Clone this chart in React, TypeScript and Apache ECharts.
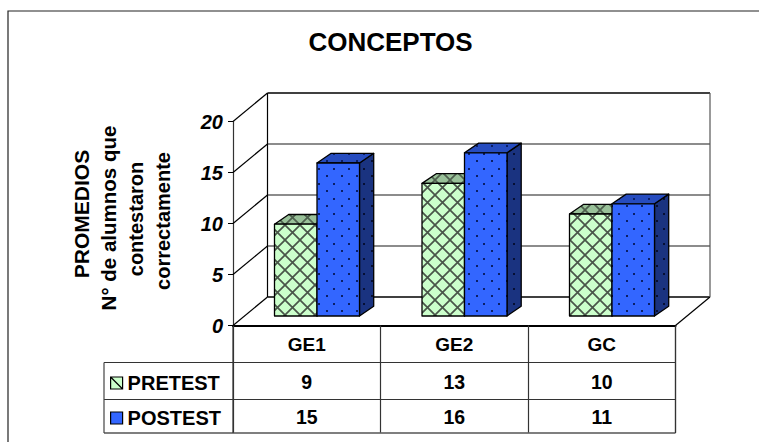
import React, { useEffect, useRef } from "react";
import * as echarts from "echarts";

// Chart contents
const categories = ["GE1", "GE2", "GC"];
const pretest = [9, 13, 10];
const postest = [15, 16, 11];
const seriesNames = ["PRETEST", "POSTEST"];
const valueTicks = [0, 5, 10, 15, 20];
const axisTitleLines = ["PROMEDIOS", "N° de alumnos que", "contestaron", "correctamente"];
const chartTitle = "CONCEPTOS";

const FONT = '"Liberation Sans", Arial, sans-serif';

// Oblique projection of the floor and the walls
const WALL_DX = 34.5;
const WALL_DY = 28.5;
const BAR_DX = 14.2;
const BAR_DY = 9.7;
const BAR_FLOOR_LIFT = 9.5;
const BAR_WIDTH = 42.5;
const BAR_INSET = 41.5;

// Table rows under the plot
const ROW_TOP = 362.5;
const ROW_MID = 399.5;
const ROW_BOTTOM = 433;
const TABLE_LEFT = 104;
const PLOT_LEFT = 233;
const PLOT_RIGHT = 675.5;

function lattice(bg: string, line: string) {
  const c = document.createElement("canvas");
  c.width = 15;
  c.height = 15;
  const g = c.getContext("2d")!;
  g.fillStyle = bg;
  g.fillRect(0, 0, 15, 15);
  g.strokeStyle = line;
  g.lineWidth = 1.7;
  g.beginPath();
  g.moveTo(-1, -1);
  g.lineTo(16, 16);
  g.moveTo(16, -1);
  g.lineTo(-1, 16);
  g.stroke();
  return { type: "pattern", image: c, repeat: "repeat", imageWidth: 15, imageHeight: 15 };
}

function dotted(bg: string, dot: string) {
  const c = document.createElement("canvas");
  c.width = 15;
  c.height = 15;
  const g = c.getContext("2d")!;
  g.fillStyle = bg;
  g.fillRect(0, 0, 15, 15);
  g.fillStyle = dot;
  g.fillRect(3, 3, 2, 2);
  g.fillRect(11, 10, 2, 2);
  return { type: "pattern", image: c, repeat: "repeat", imageWidth: 15, imageHeight: 15 };
}

function barRenderer(values: number[], slot: number, fills: any) {
  return (params: any, api: any) => {
    const i = params.dataIndex;
    const band = api.size([1, 0])[0];
    const cx = api.coord([i, 0])[0];
    const floor = api.coord([i, 0])[1] - BAR_FLOOR_LIFT;
    const top = api.coord([i, values[i]])[1] - BAR_FLOOR_LIFT;
    const l = cx - band / 2 + BAR_INSET + slot * BAR_WIDTH;
    const r = l + BAR_WIDTH;
    const edge = { stroke: "#000", lineWidth: 1.3, lineJoin: "round" };
    return {
      type: "group",
      children: [
        {
          type: "polygon",
          shape: { points: [[r, floor], [r + BAR_DX, floor - BAR_DY], [r + BAR_DX, top - BAR_DY], [r, top]] },
          style: { fill: fills.side, ...edge },
        },
        {
          type: "polygon",
          shape: { points: [[l, top], [r, top], [r + BAR_DX, top - BAR_DY], [l + BAR_DX, top - BAR_DY]] },
          style: { fill: fills.top, ...edge },
        },
        {
          type: "rect",
          shape: { x: l, y: top, width: BAR_WIDTH, height: floor - top },
          style: { fill: fills.front, ...edge },
        },
      ],
    };
  };
}

export default function App() {
  const ref = useRef<HTMLDivElement>(null);

  useEffect(() => {
    document.body.style.margin = "0";
    const chart = echarts.init(ref.current!, undefined, { renderer: "svg" });

    const hLine = (x1: number, x2: number, y: number, color = "#333", lineWidth = 1.2) => ({
      type: "line",
      shape: { x1, y1: y, x2, y2: y },
      style: { stroke: color, lineWidth },
    });
    const titleX = [81, 108, 136, 163];
    const titleY = [214, 218, 219, 221];
    const titleSize = [21, 20.5, 20, 20];

    chart.setOption({
      animation: false,
      backgroundColor: "#fff",
      title: {
        text: chartTitle,
        left: 385.5,
        top: 24,
        textAlign: "center",
        textStyle: { fontFamily: FONT, fontSize: 26, fontWeight: "bold", color: "#000" },
      },
      legend: {
        orient: "vertical",
        left: 105,
        top: 367,
        itemWidth: 12,
        itemHeight: 12,
        itemGap: 13,
        selectedMode: false,
        textStyle: { fontFamily: FONT, fontSize: 20, fontWeight: "bold", color: "#000", lineHeight: 22 },
        data: [
          {
            name: seriesNames[0],
            icon: "path://M0 0H10V10H0ZM0 0L10 10",
            itemStyle: { color: "#CCFFCC", borderColor: "#000", borderWidth: 1.2 },
          },
          {
            name: seriesNames[1],
            icon: "rect",
            itemStyle: { color: "#3366FF", borderColor: "#000", borderWidth: 1.2 },
          },
        ],
      },
      grid: { left: PLOT_LEFT, top: 121.5, width: PLOT_RIGHT - PLOT_LEFT, height: 204 },
      xAxis: {
        type: "category",
        data: categories,
        axisLine: { lineStyle: { color: "#000", width: 2 } },
        axisTick: { show: true, length: ROW_BOTTOM - 326, lineStyle: { color: "#333", width: 1.2 } },
        axisLabel: {
          margin: 9,
          fontFamily: FONT,
          fontSize: 19,
          fontWeight: "bold",
          color: "#000",
        },
      },
      yAxis: {
        type: "value",
        min: 0,
        max: 20,
        interval: 5,
        splitLine: { show: false },
        axisLine: { show: true, lineStyle: { color: "#333", width: 1.2 } },
        axisTick: { show: true, length: 5, lineStyle: { color: "#000" } },
        axisLabel: {
          margin: 10,
          fontFamily: FONT,
          fontSize: 20,
          fontWeight: "bold",
          fontStyle: "italic",
          color: "#000",
        },
      },
      series: [
        {
          // Side wall, back wall and gridlines of the 3D box
          type: "custom",
          name: "walls",
          coordinateSystem: "cartesian2d",
          silent: true,
          data: valueTicks.map((v) => [0, v]),
          encode: { x: 0, y: 1 },
          renderItem: (params: any, api: any) => {
            const v = valueTicks[params.dataIndex];
            const [x0, y] = api.coord([0, v]);
            const left = x0 - api.size([1, 0])[0] / 2;
            const right = left + api.size([1, 0])[0] * categories.length;
            const isFloor = v === 0;
            const isTop = v === valueTicks[valueTicks.length - 1];
            const children: any[] = [
              {
                type: "line",
                shape: { x1: left, y1: y, x2: left + WALL_DX, y2: y - WALL_DY },
                style: { stroke: "#000", lineWidth: 1.2 },
              },
              {
                type: "line",
                shape: { x1: left + WALL_DX, y1: y - WALL_DY, x2: right + WALL_DX, y2: y - WALL_DY },
                style: {
                  stroke: isFloor || isTop ? "#000" : "#666",
                  lineWidth: isFloor || isTop ? 1.6 : 1.4,
                },
              },
            ];
            if (isFloor) {
              children.push({
                type: "line",
                shape: { x1: right, y1: y, x2: right + WALL_DX, y2: y - WALL_DY },
                style: { stroke: "#000", lineWidth: 1.2 },
              });
            }
            if (isTop) {
              const yFloor = api.coord([0, valueTicks[0]])[1] - WALL_DY;
              children.push(
                {
                  type: "line",
                  shape: { x1: left + WALL_DX, y1: y - WALL_DY, x2: left + WALL_DX, y2: yFloor },
                  style: { stroke: "#000", lineWidth: 1.2 },
                },
                {
                  type: "line",
                  shape: { x1: right + WALL_DX, y1: y - WALL_DY, x2: right + WALL_DX, y2: yFloor },
                  style: { stroke: "#555", lineWidth: 1.2 },
                },
              );
            }
            return { type: "group", children };
          },
        },
        {
          type: "custom",
          name: seriesNames[0],
          coordinateSystem: "cartesian2d",
          data: pretest.map((v, i) => [i, v]),
          encode: { x: 0, y: 1 },
          itemStyle: { color: "#CCFFCC" },
          renderItem: barRenderer(pretest, 0, {
            front: lattice("#CCFFCC", "#4A554A"),
            top: lattice("#99C199", "#4E5F4E"),
            side: "#99C199",
          }),
        },
        {
          type: "custom",
          name: seriesNames[1],
          coordinateSystem: "cartesian2d",
          data: postest.map((v, i) => [i, v]),
          encode: { x: 0, y: 1 },
          itemStyle: { color: "#3366FF" },
          renderItem: barRenderer(postest, 1, {
            front: dotted("#3366FF", "#0B1F66"),
            top: dotted("#264CBF", "#0B1F66"),
            side: dotted("#1A3380", "#060F33"),
          }),
        },
        {
          // Values of the data table, one text per row under each category
          type: "custom",
          name: "tableValues",
          coordinateSystem: "cartesian2d",
          silent: true,
          data: categories.map((_, i) => [i, 0]),
          encode: { x: 0, y: 1 },
          renderItem: (params: any, api: any) => {
            const i = params.dataIndex;
            const x = api.coord([i, 0])[0];
            const cell = (value: number, y: number) => ({
              type: "text",
              x,
              y,
              style: {
                text: String(value),
                fill: "#000",
                font: `bold 19.5px ${FONT}`,
                textAlign: "center",
                textVerticalAlign: "middle",
              },
            });
            return {
              type: "group",
              children: [cell(pretest[i], 382), cell(postest[i], 417)],
            };
          },
        },
      ],
      graphic: [
        {
          type: "polyline",
          shape: { points: [[8, 442], [8, 11], [759, 11]] },
          style: { fill: "none", stroke: "#222", lineWidth: 1.2 },
        },
        hLine(TABLE_LEFT, PLOT_RIGHT, ROW_TOP),
        hLine(TABLE_LEFT, PLOT_RIGHT, ROW_MID),
        hLine(TABLE_LEFT, PLOT_RIGHT, ROW_BOTTOM, "#555", 1.6),
        {
          type: "line",
          shape: { x1: TABLE_LEFT, y1: ROW_TOP, x2: TABLE_LEFT, y2: ROW_BOTTOM },
          style: { stroke: "#444", lineWidth: 1.2 },
        },
        {
          type: "line",
          shape: { x1: PLOT_LEFT, y1: 325, x2: PLOT_LEFT, y2: ROW_BOTTOM },
          style: { stroke: "#333", lineWidth: 1.2 },
        },
        {
          type: "line",
          shape: { x1: PLOT_RIGHT, y1: 325, x2: PLOT_RIGHT, y2: ROW_BOTTOM },
          style: { stroke: "#333", lineWidth: 1.2 },
        },
        ...axisTitleLines.map((line, i) => ({
          type: "text",
          x: titleX[i],
          y: titleY[i],
          rotation: Math.PI / 2,
          style: {
            text: line,
            fill: "#000",
            font: `bold ${titleSize[i]}px ${FONT}`,
            textAlign: "center",
            textVerticalAlign: "middle",
          },
        })),
      ],
    });

    return () => chart.dispose();
  }, []);

  return <div ref={ref} style={{ width: 760, height: 443 }} />;
}
